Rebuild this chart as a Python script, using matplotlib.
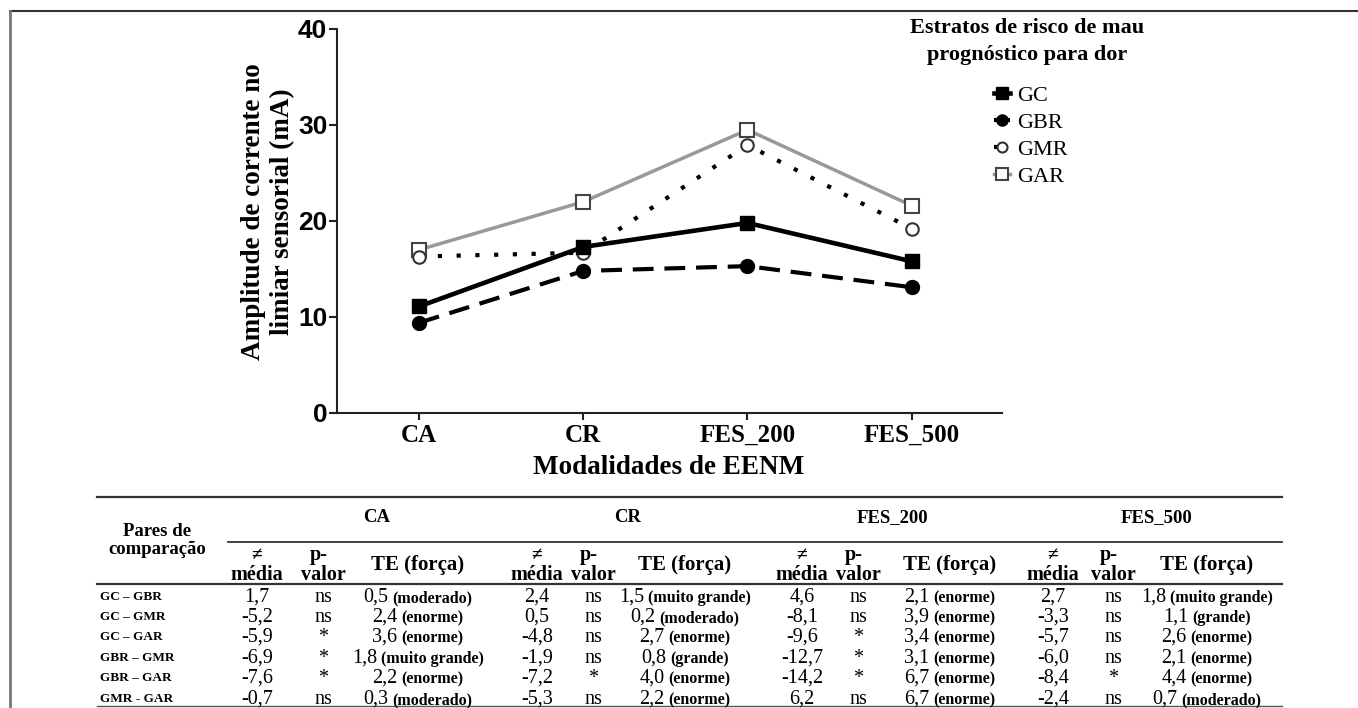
import matplotlib
matplotlib.use("Agg")
import matplotlib.pyplot as plt
from matplotlib.lines import Line2D

# Chart data
modalities = ["CA", "CR", "FES_200", "FES_500"]
groups = ["GC", "GBR", "GMR", "GAR"]
gc = [11.1, 17.3, 19.8, 15.8]
gbr = [9.4, 14.8, 15.3, 13.1]
gmr = [16.3, 16.7, 27.9, 19.2]
gar = [17.0, 22.0, 29.5, 21.6]

# Table data
pairs = ["GC – GBR", "GC – GMR", "GC – GAR", "GBR – GMR", "GBR – GAR", "GMR - GAR"]
diff_ca = [1.7, -5.2, -5.9, -6.9, -7.6, -0.7]
p_ca = ["ns", "ns", "*", "*", "*", "ns"]
te_ca = [0.5, 2.4, 3.6, 1.8, 2.2, 0.3]
force_ca = ["moderado", "enorme", "enorme", "muito grande", "enorme", "moderado"]
diff_cr = [2.4, 0.5, -4.8, -1.9, -7.2, -5.3]
p_cr = ["ns", "ns", "ns", "ns", "*", "ns"]
te_cr = [1.5, 0.2, 2.7, 0.8, 4.0, 2.2]
force_cr = ["muito grande", "moderado", "enorme", "grande", "enorme", "enorme"]
diff_f200 = [4.6, -8.1, -9.6, -12.7, -14.2, 6.2]
p_f200 = ["ns", "ns", "*", "*", "*", "ns"]
te_f200 = [2.1, 3.9, 3.4, 3.1, 6.7, 6.7]
force_f200 = ["enorme", "enorme", "enorme", "enorme", "enorme", "enorme"]
diff_f500 = [2.7, -3.3, -5.7, -6.0, -8.4, -2.4]
p_f500 = ["ns", "ns", "ns", "ns", "*", "ns"]
te_f500 = [1.8, 1.1, 2.6, 2.1, 4.4, 0.7]
force_f500 = ["muito grande", "grande", "enorme", "enorme", "enorme", "moderado"]

SERIF = ["Liberation Serif", "DejaVu Serif"]
SANS = ["Liberation Sans", "DejaVu Sans"]
W, H = 1358, 708


def fx(x):
    return x / W


def fy(y):
    return 1 - y / H


def fmt(v):
    return f"{v:.1f}".replace(".", ",")


fig = plt.figure(figsize=(W / 100, H / 100), dpi=100)
ax = fig.add_axes([fx(337), fy(413), (1002 - 337) / W, (413 - 29) / H])

x = range(len(modalities))
ax.plot(x, gar, color="#999999", lw=2.5, marker="s", ms=10, mfc="white",
        mec="#444444", mew=1.5, label="GAR", zorder=2)
ax.plot(x, gmr, color="black", lw=3, ls=(0, (1, 3.5)), marker="o", ms=9,
        mfc="white", mec="#333333", mew=1.5, label="GMR", zorder=3)
ax.plot(x, gc, color="black", lw=3.3, marker="s", ms=10, label="GC", zorder=4)
ax.plot(x, gbr, color="black", lw=3, ls=(0, (5, 2.6)), marker="o", ms=10,
        label="GBR", zorder=4)

ax.set_xlim(-0.5, 3.55)
ax.set_ylim(0, 40)
ax.set_yticks([0, 10, 20, 30, 40])
ax.set_xticks(list(x))
ax.set_xticklabels(modalities, family=SERIF, weight="bold", fontsize=18)
for lab in ax.get_yticklabels():
    lab.set_family(SANS)
    lab.set_fontweight("bold")
    lab.set_fontsize(19)
ax.tick_params(axis="y", length=6, width=1.5, pad=1, color="#222222")
ax.tick_params(axis="x", length=5, width=1.5, pad=3, color="#222222")
for side in ["top", "right"]:
    ax.spines[side].set_visible(False)
for side in ["left", "bottom"]:
    ax.spines[side].set_linewidth(1.5)
    ax.spines[side].set_color("#222222")

fig.text(fx(268), fy(212), "Amplitude de corrente no\nlimiar sensorial (mA)",
         rotation=90, ha="center", va="center", family=SERIF, weight="bold",
         fontsize=19.5, linespacing=1.2)
fig.text(fx(669), fy(468), "Modalidades de EENM", ha="center", va="center",
         family=SERIF, weight="bold", fontsize=19.5)

# Legend
fig.text(fx(1027), fy(28), "Estratos de risco de mau", ha="center", va="center",
         family=SERIF, weight="bold", fontsize=16)
fig.text(fx(1027), fy(55), "prognóstico para dor", ha="center", va="center",
         family=SERIF, weight="bold", fontsize=16)
handles, labels = ax.get_legend_handles_labels()
order = [labels.index(g) for g in groups]
leg = fig.legend([handles[i] for i in order], groups, loc="upper left",
                 bbox_to_anchor=(fx(974), fy(65)), frameon=False,
                 handlelength=0.7, handletextpad=0.35, labelspacing=0.3,
                 prop={"family": SERIF, "size": 16}, markerscale=0.8)

# Figure frame
fig.add_artist(Line2D([fx(10), 1], [fy(11), fy(11)], color="#333333", lw=1.5))
fig.add_artist(Line2D([fx(10), fx(10)], [fy(11), 0], color="#777777", lw=2))

# Table lines
fig.add_artist(Line2D([fx(97), fx(1282)], [fy(497), fy(497)], color="#333333", lw=1.6))
fig.add_artist(Line2D([fx(228), fx(1282)], [fy(542), fy(542)], color="#333333", lw=1.3))
fig.add_artist(Line2D([fx(97), fx(1282)], [fy(584), fy(584)], color="#333333", lw=1.6))
fig.add_artist(Line2D([fx(97), fx(1282)], [fy(706), fy(706)], color="#555555", lw=1))

fig.text(fx(157), fy(532), "Pares de", ha="center", va="center", family=SERIF,
         weight="bold", fontsize=13.5)
fig.text(fx(157), fy(550), "comparação", ha="center", va="center", family=SERIF,
         weight="bold", fontsize=13.5)

renderer = fig.canvas.get_renderer()
blocks = [
    ("CA", 377, (257, 323, 418), diff_ca, p_ca, te_ca, force_ca),
    ("CR", 628, (537, 593, 685), diff_cr, p_cr, te_cr, force_cr),
    ("FES_200", 893, (802, 858, 950), diff_f200, p_f200, te_f200, force_f200),
    ("FES_500", 1157, (1053, 1113, 1207), diff_f500, p_f500, te_f500, force_f500),
]
row_y = [597, 617, 637, 658, 678, 699]

for name, cx, cols, diffs, pvals, tes, forces in blocks:
    fig.text(fx(cx), fy(518), name, ha="center", va="center", family=SERIF,
             weight="bold", fontsize=13.5)
    fig.text(fx(cols[0]), fy(556), "≠", ha="center", va="center", family=SERIF,
             weight="bold", fontsize=14)
    fig.text(fx(cols[0]), fy(575), "média", ha="center", va="center", family=SERIF,
             weight="bold", fontsize=14.5)
    fig.text(fx(cols[1] - 4), fy(555), "p-", ha="center", va="center", family=SERIF,
             weight="bold", fontsize=14.5)
    fig.text(fx(cols[1]), fy(575), "valor", ha="center", va="center", family=SERIF,
             weight="bold", fontsize=14.5)
    fig.text(fx(cols[2]), fy(565), "TE (força)", ha="center", va="center",
             family=SERIF, weight="bold", fontsize=15)
    for ry, d, p, te, force in zip(row_y, diffs, pvals, tes, forces):
        fig.text(fx(cols[0]), fy(ry + 5), fmt(d), ha="center", va="baseline",
                 family=SERIF, fontsize=14.5)
        fig.text(fx(cols[1]), fy(ry + 5), p, ha="center", va="baseline",
                 family=SERIF, fontsize=14.5)
        # TE cell: regular number followed by a bold strength label
        t1 = fig.text(0, fy(ry + 5), fmt(te), ha="left", va="baseline",
                      family=SERIF, fontsize=14.5)
        t2 = fig.text(0, fy(ry + 5), f"({force})", ha="left", va="baseline",
                      family=SERIF, weight="bold", fontsize=11.5)
        w1 = t1.get_window_extent(renderer).width
        w2 = t2.get_window_extent(renderer).width
        x0 = cols[2] - (w1 + 4 + w2) / 2
        t1.set_x(fx(x0))
        t2.set_x(fx(x0 + w1 + 4))

for ry, pair in zip(row_y, pairs):
    fig.text(fx(100), fy(ry), pair, ha="left", va="center", family=SERIF,
             weight="bold", fontsize=9.5)

fig.savefig("out.png", dpi=100)
